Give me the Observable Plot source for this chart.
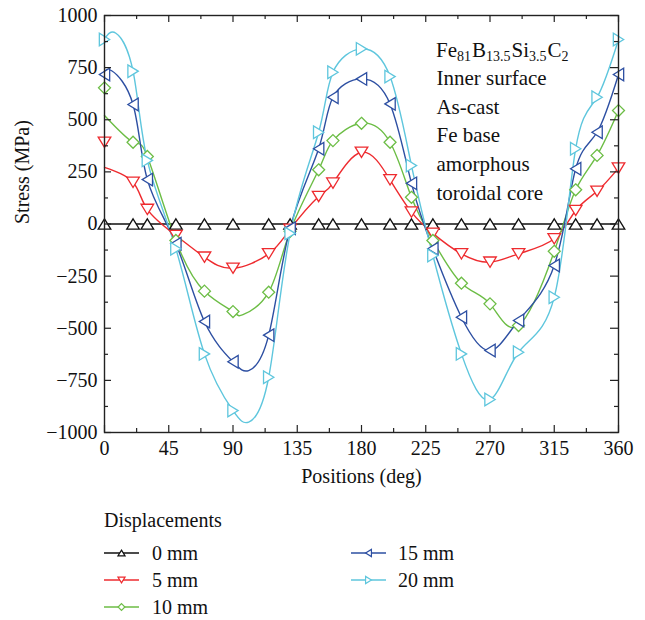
<!DOCTYPE html>
<html><head><meta charset="utf-8">
<script src="https://cdn.jsdelivr.net/npm/d3@7"></script>
<script src="https://cdn.jsdelivr.net/npm/@observablehq/plot@0.6"></script>
<style>
body{margin:0;background:#fff;}
#wrap{position:relative;width:645px;height:620px;background:#fff;}
#wrap svg{display:block;}
svg text{font-family:"Liberation Serif","DejaVu Serif",serif;}
</style></head><body><div id="wrap"></div>
<script>
// ---- data ----
const positions = [0, 20, 30, 50, 70, 90, 115, 130, 150, 160, 180, 200, 215, 230, 250, 270, 290, 315, 330, 345, 360];
const stress0mm  = [0, 0, 0, 0, 0, 0, 0, 0, 0, 0, 0, 0, 0, 0, 0, 0, 0, 0, 0, 0, 0];
const stress5mm  = [392, 200, 70, -55, -159, -212, -143, -25, 132, 196, 344, 212, 57, -45, -143, -183, -143, -71, 65, 157, 268];
const stress10mm = [653, 392, 324, -79, -322, -420, -327, -35, 260, 400, 483, 392, 128, -79, -284, -383, -487, -131, 164, 329, 544];
const stress15mm = [717, 573, 213, -95, -468, -661, -533, -20, 361, 608, 696, 576, 195, -119, -447, -607, -463, -199, 265, 440, 717];
const stress20mm = [885, 733, 305, -119, -623, -895, -735, -45, 440, 728, 840, 707, 280, -151, -623, -842, -615, -351, 361, 608, 885];
// value where each drawn curve starts at 0 deg (the curve does not pass through the 0-deg marker)
const curveStartAt0 = [0, 272, 520, 720, 888];
// visible extrema of the drawn curves that lie between markers
const curveExtraSeries = [4, 4, 3, 3, 2];
const curveExtraPos    = [8, 101, 5, 101, 97];
const curveExtraStress = [915, -950, 735, -703, -435];
const seriesNames = ["0 mm", "5 mm", "10 mm", "15 mm", "20 mm"];
const seriesColors = ["#111111", "#ee2b2f", "#6cbd45", "#2d4fa2", "#5ec6dd"];
const xTickValues = [0, 45, 90, 135, 180, 225, 270, 315, 360];
const xMinorTicks = [22.5, 67.5, 112.5, 157.5, 202.5, 247.5, 292.5, 337.5];
const yTickValues = [-1000, -750, -500, -250, 0, 250, 500, 750, 1000];
const yMinorTicks = [-875, -625, -375, -125, 125, 375, 625, 875];
const annotationLines = ["Inner surface", "As-cast", "Fe base", "amorphous", "toroidal core"];
const formulaParts = [["Fe", false], ["81", true], ["B", false], ["13.5", true], ["Si", false], ["3.5", true], ["C", false], ["2", true]];
const legendTitle = "Displacements";
const FONT = "Liberation Serif";

// ---- symbols ----
const symUp = {draw(c, size){const r=Math.sqrt(size/Math.PI), h=r*0.82; c.moveTo(0,-h); c.lineTo(r,h); c.lineTo(-r,h); c.closePath();}};
const symDown = {draw(c, size){const r=Math.sqrt(size/Math.PI), h=r*0.82; c.moveTo(0,h); c.lineTo(r,-h); c.lineTo(-r,-h); c.closePath();}};
const symLeft = {draw(c, size){const r=Math.sqrt(size/Math.PI), h=r*0.82; c.moveTo(-h,0); c.lineTo(h,-r); c.lineTo(h,r); c.closePath();}};
const symRight = {draw(c, size){const r=Math.sqrt(size/Math.PI), h=r*0.82; c.moveTo(h,0); c.lineTo(-h,-r); c.lineTo(-h,r); c.closePath();}};
const symDiamond = {draw(c, size){const r=Math.sqrt(size/Math.PI)*0.95; c.moveTo(0,-r); c.lineTo(r,0); c.lineTo(0,r); c.lineTo(-r,0); c.closePath();}};
const seriesSymbols = [symUp, symDown, symDiamond, symLeft, symRight];
const seriesValues = [stress0mm, stress5mm, stress10mm, stress15mm, stress20mm];

const lineData = [], dotData = [];
seriesValues.forEach((vals, k) => {
  positions.forEach((p, i) => {
    dotData.push({x: p, y: vals[i], k});
    lineData.push({x: p, y: i === 0 ? curveStartAt0[k] : vals[i], k});
  });
});
curveExtraSeries.forEach((k, j) => lineData.push({x: curveExtraPos[j], y: curveExtraStress[j], k}));

const lineMarks = seriesValues.map((v, k) => Plot.line(
  lineData.filter(d => d.k === k).sort((a, b) => a.x - b.x), {
  x: "x", y: "y", stroke: seriesColors[k], strokeWidth: 1.4, curve: k === 0 ? "linear" : "natural"
}));
const dotMarks = seriesValues.map((v, k) => Plot.dot(dotData.filter(d => d.k === k), {
  x: "x", y: "y", stroke: seriesColors[k], fill: "white", strokeWidth: 1.3, r: 6.3, symbol: seriesSymbols[k]
}));

const fmt = d => d < 0 ? "\u2212" + Math.abs(d) : String(d);
const tickStyle = {stroke: "#222", strokeWidth: 1.2};

const plot = Plot.plot({
  width: 645, height: 500,
  marginLeft: 104, marginRight: 27, marginTop: 15, marginBottom: 68,
  x: {domain: [0, 360], label: null},
  y: {domain: [-1000, 1000], label: null},
  style: {fontFamily: "'Liberation Serif', 'DejaVu Serif', serif", fontSize: "20px", color: "#111", background: "white", overflow: "visible"},
  marks: [
    ...lineMarks,
    ...dotMarks,
    Plot.frame({stroke: "#222", strokeWidth: 1.4}),
    // inward ticks on all four sides
    Plot.ruleY(yTickValues, {y: d => d, insetRight: 507, ...tickStyle}),
    Plot.ruleY(yMinorTicks, {y: d => d, insetRight: 510, ...tickStyle}),
    Plot.ruleY(yTickValues, {y: d => d, insetLeft: 506, ...tickStyle}),
    Plot.ruleY(yMinorTicks, {y: d => d, insetLeft: 510, ...tickStyle}),
    Plot.ruleX(xTickValues, {x: d => d, insetTop: 410, ...tickStyle}),
    Plot.ruleX(xMinorTicks, {x: d => d, insetTop: 413, ...tickStyle}),
    Plot.ruleX(xTickValues, {x: d => d, insetBottom: 410, ...tickStyle}),
    Plot.ruleX(xMinorTicks, {x: d => d, insetBottom: 413, ...tickStyle}),
    Plot.axisX({anchor: "bottom", ticks: xTickValues, tickSize: 0, tickPadding: 8, fontSize: 20, fontFamily: FONT, tickFormat: fmt, label: null}),
    Plot.axisY({anchor: "left", ticks: yTickValues, tickSize: 0, tickPadding: 7, fontSize: 20, fontFamily: FONT, tickFormat: fmt, label: null}),
    Plot.text(["Positions (deg)"], {frameAnchor: "bottom", dy: 50, text: d => d, fontSize: 20, fontFamily: FONT}),
    Plot.text(["Stress (MPa)"], {frameAnchor: "left", dx: -82, rotate: -90, text: d => d, fontSize: 20, fontFamily: FONT}),
    Plot.text([annotationLines.join("\n")], {x: () => 232.5, y: () => 765, text: d => d, textAnchor: "start", lineAnchor: "top", lineHeight: 1.37, fontSize: 21, fontFamily: FONT})
  ]
});

const wrap = document.getElementById("wrap");
wrap.appendChild(plot);

// formula line with subscripts
const xs = plot.scale("x");
const ft = d3.select(plot).append("text")
  .attr("x", xs.apply(232.5)).attr("y", 57)
  .attr("text-anchor", "start")
  .attr("font-family", FONT)
  .attr("font-size", 21).attr("fill", "#111");
formulaParts.forEach(([t, sub], i) => {
  const prevSub = i > 0 && formulaParts[i-1][1];
  const ts = ft.append("tspan").text(t);
  if (sub) ts.attr("font-size", 14).attr("dy", 4);
  else if (prevSub) ts.attr("dy", -4).attr("dx", 1);
});

// legend (separate SVG below the chart)
const leg = d3.select(wrap).append("svg")
  .attr("width", 645).attr("height", 120)
  .attr("font-family", FONT).attr("font-size", 20).attr("fill", "#111");
leg.append("text").attr("x", 104).attr("y", 27).text(legendTitle);
const rowCenters = [53, 80, 107];
seriesNames.forEach((name, k) => {
  const col = k < 3 ? 0 : 1, row = k < 3 ? k : k - 3;
  const sx = col === 0 ? 104 : 351, tx = col === 0 ? 152 : 398;
  const cy = rowCenters[row];
  leg.append("line").attr("x1", sx).attr("x2", sx + 35).attr("y1", cy).attr("y2", cy)
    .attr("stroke", seriesColors[k]).attr("stroke-width", 1.4);
  leg.append("path").attr("transform", `translate(${sx + 17.5},${cy})`)
    .attr("d", d3.symbol(seriesSymbols[k], 40)())
    .attr("fill", "white").attr("stroke", seriesColors[k]).attr("stroke-width", 1.2);
  leg.append("text").attr("x", tx).attr("y", cy + 7).attr("fill", "#111").text(name);
});
</script></body></html>
